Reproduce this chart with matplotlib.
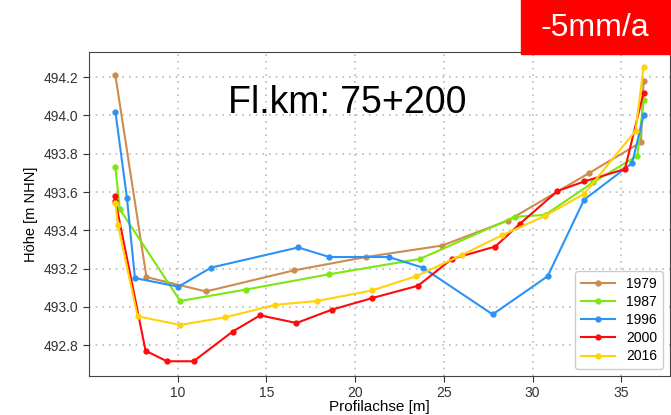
import matplotlib
matplotlib.use("Agg")
import matplotlib.pyplot as plt
from matplotlib.patches import Rectangle

plt.rcParams['font.family'] = ['Liberation Sans', 'DejaVu Sans']

# Profile survey data (x along section, height in m NHN)
x1979 = [6.5, 8.25, 11.6, 16.55, 20.6, 24.9, 28.6, 33.2, 36.1, 36.25]
y1979 = [494.21, 493.155, 493.08, 493.19, 493.26, 493.32, 493.45, 493.70, 493.86, 494.18]

x1987 = [6.5, 6.75, 10.15, 13.85, 18.55, 23.65, 29.0, 30.7, 33.4, 35.9, 36.25]
y1987 = [493.73, 493.51, 493.03, 493.09, 493.17, 493.25, 493.47, 493.48, 493.65, 493.79, 494.08]

x1996 = [6.5, 7.15, 7.6, 10.05, 11.9, 16.8, 18.55, 21.9, 23.8, 27.75, 30.85, 32.9, 35.6, 36.25]
y1996 = [494.02, 493.57, 493.15, 493.105, 493.205, 493.31, 493.26, 493.26, 493.205, 492.96,
         493.16, 493.56, 493.75, 494.0]

x2000 = [6.5, 6.5, 8.2, 9.4, 10.9, 13.1, 14.65, 16.7, 18.7, 20.95, 23.55, 25.45, 27.9, 29.3,
         31.4, 32.9, 35.2, 36.25]
y2000 = [493.58, 493.555, 492.77, 492.715, 492.715, 492.87, 492.955, 492.915, 492.985, 493.045,
         493.11, 493.25, 493.315, 493.435, 493.605, 493.655, 493.72, 494.12]

x2016 = [6.5, 6.65, 7.75, 10.15, 12.7, 15.5, 17.85, 20.95, 23.45, 26.0, 28.3, 30.7, 32.9, 35.8, 36.25]
y2016 = [493.54, 493.425, 492.95, 492.905, 492.945, 493.01, 493.03, 493.085, 493.16, 493.27,
         493.375, 493.475, 493.59, 493.92, 494.255]

series = [
    ("1979", x1979, y1979, "#CD8C4E"),
    ("1987", x1987, y1987, "#7CE80F"),
    ("1996", x1996, y1996, "#2B93F5"),
    ("2000", x2000, y2000, "#FF0A0A"),
    ("2016", x2016, y2016, "#FFD20A"),
]

fig = plt.figure(figsize=(6.71, 4.15), dpi=100)
ax = fig.add_axes([0.1326, 0.094, 0.8659, 0.7807])

for label, xs, ys, col in series:
    ax.plot(xs, ys, color=col, marker="o", markersize=3.5, linewidth=1.5, label=label)

ax.grid(True, linestyle=(0, (1, 3)), color="#bbbbbb", linewidth=1.2)
ax.set_axisbelow(True)
ax.set_xticks([10, 15, 20, 25, 30, 35])
ax.set_yticks([492.8, 493.0, 493.2, 493.4, 493.6, 493.8, 494.0, 494.2])
ax.tick_params(labelsize=10, colors="#333333", length=4)
for sp in ax.spines.values():
    sp.set_color("#444444")
ax.set_xlabel("Profilachse [m]", fontsize=11, labelpad=0)
ax.set_ylabel("Höhe [m NHN]", fontsize=10.5)

ax.text(0.444, 0.843, "Fl.km: 75+200", transform=ax.transAxes, fontsize=27,
        ha="center", va="center")

leg = ax.legend(loc="lower right", fontsize=10, framealpha=1, edgecolor="#cccccc",
                handlelength=2.5, borderpad=0.4, labelspacing=0.3)

fig.patches.append(Rectangle((521 / 671, 1 - 54 / 415), 150 / 671, 54 / 415,
                             transform=fig.transFigure, color="#FF0000", zorder=5))
fig.text(594.5 / 671, 1 - 28 / 415, "-5mm/a", color="white", fontsize=23,
         ha="center", va="center", zorder=6)

fig.savefig("out.png", dpi=100)
